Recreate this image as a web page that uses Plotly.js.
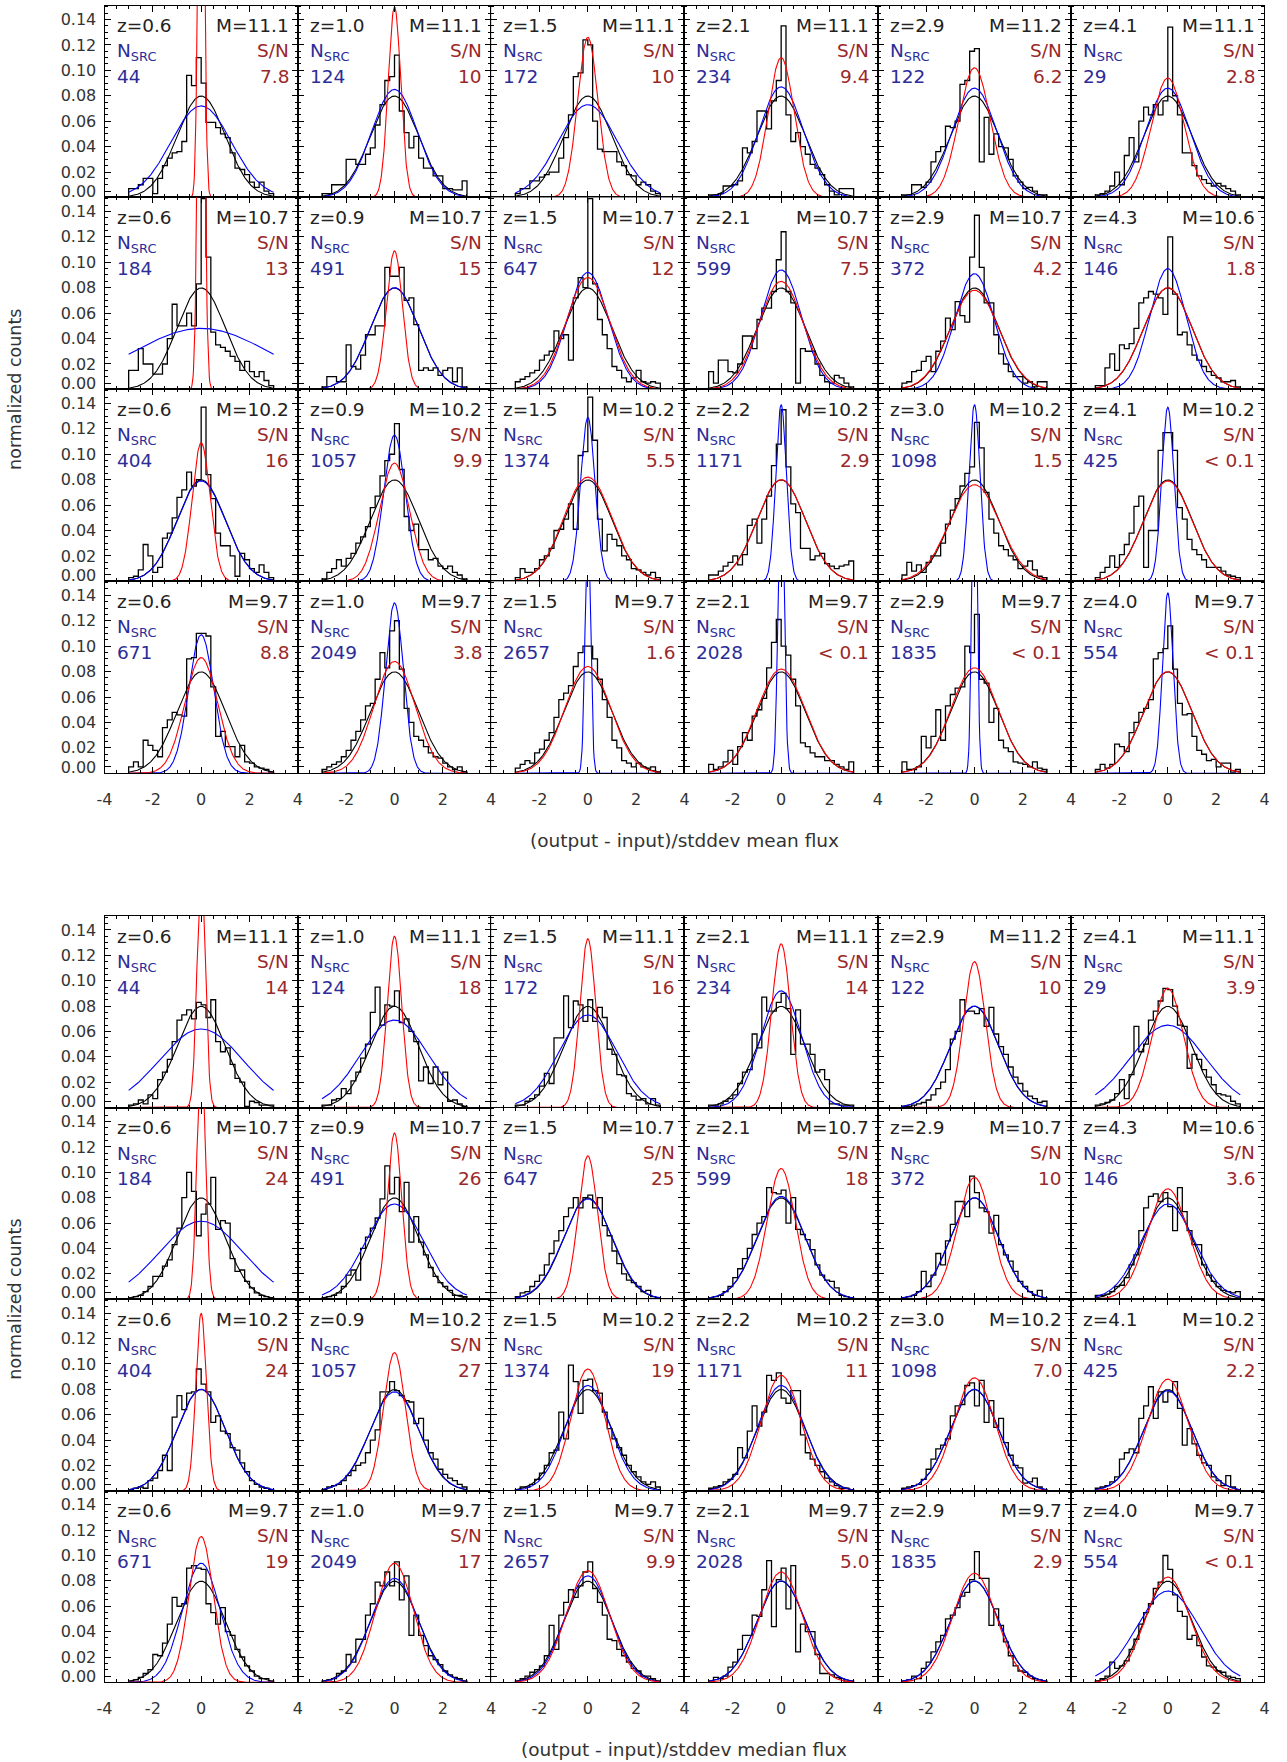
<!DOCTYPE html>
<html><head><meta charset="utf-8">
<script src="https://cdn.plot.ly/plotly-3.0.1.min.js"></script>
<style>html,body{margin:0;padding:0;background:#fff}</style>
</head><body><div id="chart" style="width:1287px;height:1762px"></div>
<script>
// ---------------- data ----------------
const binLeft = [-3.0,-2.8,-2.6,-2.4,-2.2,-2.0,-1.8,-1.6,-1.4,-1.2,-1.0,-0.8,-0.6,-0.4,-0.2,0.0,0.2,0.4,0.6,0.8,1.0,1.2,1.4,1.6,1.8,2.0,2.2,2.4,2.6,2.8];
const binRightEdge = 3.0;

const zLabels = ['0.6','1.0','1.5','2.1','2.9','4.1','0.6','0.9','1.5','2.1','2.9','4.3','0.6','0.9','1.5','2.2','3.0','4.1','0.6','1.0','1.5','2.1','2.9','4.0'];
const massLabels = ['11.1','11.1','11.1','11.1','11.2','11.1','10.7','10.7','10.7','10.7','10.7','10.6','10.2','10.2','10.2','10.2','10.2','10.2','9.7','9.7','9.7','9.7','9.7','9.7'];
const nSrc = ['44','124','172','234','122','29','184','491','647','599','372','146','404','1057','1374','1171','1098','425','671','2049','2657','2028','1835','554'];
const snMean = ['7.8','10','10','9.4','6.2','2.8','13','15','12','7.5','4.2','1.8','16','9.9','5.5','2.9','1.5','&lt; 0.1','8.8','3.8','1.6','&lt; 0.1','&lt; 0.1','&lt; 0.1'];
const snMedian = ['14','18','16','14','10','3.9','24','26','25','18','10','3.6','24','27','19','11','7.0','2.2','19','17','9.9','5.0','2.9','&lt; 0.1'];

// reference unit gaussian (black curve)
const refPeak = 0.0798, refSigma = 1.0;

// fitted gaussians: peak and sigma (mean flux figure)
const blueAmpMean = [0.072,0.085,0.073,0.087,0.086,0.086, 0.048,0.080,0.092,0.094,0.091,0.095, 0.079,0.115,0.129,0.139,0.139,0.137, 0.109,0.134,0.20,0.25,0.30,0.142];
const blueSigMean = [1.25,0.95,1.22,0.92,0.92,0.92, 2.85,1.00,0.85,0.85,0.82,0.75, 1.00,0.45,0.30,0.22,0.23,0.25, 0.52,0.37,0.11,0.12,0.10,0.22];
const redAmpMean  = [0.45,0.150,0.126,0.110,0.102,0.094, 0.50,0.109,0.088,0.085,0.078,0.080, 0.109,0.093,0.082,0.080,0.076,0.079, 0.091,0.088,0.084,0.082,0.083,0.080];
const redSigMean  = [0.11,0.26,0.42,0.54,0.65,0.68, 0.12,0.33,0.90,0.92,1.02,1.00, 0.37,0.62,1.00,1.00,1.05,1.00, 0.68,0.85,0.95,1.00,0.98,1.00];
// (median flux figure)
const blueAmpMedian = [0.062,0.069,0.073,0.092,0.080,0.065, 0.0615,0.075,0.079,0.081,0.080,0.075, 0.080,0.078,0.083,0.083,0.080,0.079, 0.094,0.082,0.084,0.080,0.080,0.072];
const blueSigMedian = [1.72,1.40,1.19,0.85,1.00,1.55, 1.72,1.20,1.02,1.00,1.00,1.10, 1.00,1.02,0.93,0.97,1.00,1.00, 0.78,0.97,0.95,1.00,1.00,1.30];
const redAmpMedian  = [0.19,0.135,0.133,0.129,0.115,0.094, 0.20,0.131,0.113,0.103,0.096,0.087, 0.140,0.109,0.096,0.091,0.089,0.088, 0.115,0.094,0.088,0.087,0.086,0.083];
const redSigMedian  = [0.17,0.30,0.33,0.39,0.45,0.65, 0.17,0.30,0.40,0.58,0.70,0.85, 0.22,0.45,0.70,0.83,0.85,0.85, 0.50,0.78,0.90,0.88,0.90,0.93];

// histograms (normalized counts per 0.2-wide bin), panels row by row
const histMean = [
[.007,.007,.010,.015,.015,.003,.015,.025,.031,.035,.036,.044,.096,.088,.110,.090,.059,.059,.055,.050,.047,.035,.023,.022,.018,.012,.008,.012,.005,.003],
[.003,.003,.010,.010,.010,.030,.030,.026,.026,.034,.039,.057,.073,.092,.095,.112,.068,.051,.039,.048,.031,.023,.023,.017,.017,.007,.007,.006,.006,.013],
[.003,.007,.007,.013,.013,.016,.018,.020,.020,.031,.047,.065,.095,.098,.124,.120,.060,.038,.036,.036,.036,.028,.025,.018,.017,.010,.012,.010,.005,.003],
[.002,.002,.003,.009,.009,.010,.013,.039,.035,.044,.068,.068,.054,.076,.092,.135,.065,.044,.051,.040,.034,.026,.023,.018,.010,.005,.002,.007,.007,.007],
[.002,.002,.010,.010,.008,.012,.028,.036,.040,.056,.055,.060,.089,.092,.115,.117,.028,.063,.034,.050,.040,.039,.030,.017,.012,.007,.008,.005,.002,.002],
[.002,.003,.005,.009,.020,.010,.033,.047,.028,.060,.071,.065,.073,.065,.076,.134,.080,.065,.035,.035,.025,.017,.014,.011,.009,.011,.009,.007,.005,.002],
[.015,.015,.032,.020,.020,.012,.012,.020,.040,.067,.050,.050,.060,.050,.083,.150,.104,.045,.035,.033,.030,.026,.022,.015,.022,.014,.010,.014,.007,.003],
[.002,.010,.010,.006,.006,.035,.018,.016,.027,.043,.043,.050,.050,.096,.089,.089,.096,.070,.072,.051,.015,.017,.015,.017,.011,.015,.017,.006,.017,.002],
[.006,.008,.010,.013,.015,.023,.027,.030,.046,.040,.043,.023,.072,.088,.080,.150,.083,.055,.043,.032,.018,.015,.009,.006,.009,.015,.006,.005,.006,.005],
[.014,.005,.023,.023,.014,.013,.020,.042,.042,.032,.055,.064,.064,.077,.102,.124,.077,.068,.005,.032,.030,.030,.020,.011,.006,.005,.011,.009,.005,.002],
[.005,.006,.014,.015,.022,.026,.014,.030,.038,.056,.047,.069,.058,.053,.104,.137,.096,.068,.068,.043,.028,.020,.014,.010,.010,.005,.006,.002,.006,.006],
[.003,.003,.017,.028,.015,.035,.032,.036,.048,.068,.072,.077,.075,.072,.059,.120,.075,.043,.045,.035,.027,.023,.018,.014,.011,.009,.006,.006,.007,.002],
[.003,.004,.009,.029,.020,.007,.011,.034,.038,.050,.066,.072,.086,.075,.080,.137,.084,.065,.038,.028,.028,.020,.004,.022,.017,.010,.007,.013,.007,.003],
[.002,.007,.010,.017,.012,.018,.022,.030,.035,.043,.058,.067,.083,.095,.100,.124,.088,.051,.040,.045,.025,.025,.017,.018,.012,.010,.012,.007,.005,.002],
[.003,.010,.007,.007,.010,.017,.020,.026,.040,.041,.049,.061,.041,.099,.102,.145,.111,.049,.024,.037,.033,.028,.020,.017,.010,.009,.007,.005,.007,.003],
[.005,.005,.008,.012,.015,.020,.013,.021,.044,.049,.030,.049,.067,.091,.108,.135,.090,.061,.054,.026,.026,.017,.020,.022,.014,.012,.010,.012,.013,.016],
[.005,.015,.008,.013,.007,.015,.020,.020,.030,.045,.056,.065,.075,.085,.090,.125,.105,.070,.049,.038,.028,.025,.020,.017,.010,.012,.016,.009,.004,.003],
[.003,.007,.011,.020,.011,.021,.029,.038,.059,.067,.011,.040,.040,.103,.117,.117,.103,.058,.049,.033,.025,.021,.017,.011,.011,.011,.008,.005,.004,.003],
[.005,.009,.005,.026,.022,.018,.013,.036,.042,.048,.046,.045,.090,.091,.110,.110,.108,.068,.029,.033,.021,.021,.013,.022,.009,.008,.005,.004,.003,.001],
[.003,.005,.007,.009,.013,.018,.026,.033,.042,.053,.055,.074,.095,.083,.112,.120,.082,.051,.040,.029,.026,.021,.016,.013,.012,.008,.005,.003,.005,.001],
[.004,.007,.010,.008,.016,.019,.026,.032,.044,.058,.063,.069,.084,.095,.100,.100,.090,.074,.058,.044,.026,.020,.010,.008,.005,.008,.005,.004,.005,.001],
[.007,.003,.005,.009,.018,.007,.021,.032,.026,.045,.050,.059,.083,.103,.121,.100,.093,.074,.053,.024,.021,.016,.013,.013,.010,.010,.007,.005,.003,.009],
[.009,.003,.003,.005,.029,.020,.029,.050,.026,.053,.062,.067,.068,.100,.095,.125,.074,.071,.040,.051,.026,.020,.017,.009,.008,.007,.005,.009,.004,.003],
[.003,.007,.004,.007,.023,.021,.017,.032,.040,.048,.051,.058,.090,.095,.098,.116,.082,.055,.046,.047,.029,.018,.015,.010,.011,.005,.008,.008,.001,.003]
];
const histMedian = [
[.002,.003,.006,.003,.010,.007,.022,.028,.038,.052,.069,.073,.077,.070,.083,.081,.071,.085,.052,.044,.047,.034,.023,.020,.001,.005,.004,.002,.002,.002],
[.002,.002,.006,.007,.015,.011,.021,.028,.039,.050,.075,.095,.065,.081,.080,.092,.067,.070,.060,.052,.021,.032,.019,.032,.018,.028,.005,.006,.003,.001],
[.002,.002,.005,.007,.010,.017,.027,.019,.055,.055,.088,.063,.084,.081,.068,.085,.068,.079,.071,.046,.042,.026,.025,.011,.009,.006,.007,.003,.007,.002],
[.002,.002,.003,.005,.007,.010,.019,.028,.030,.058,.047,.087,.076,.076,.083,.090,.078,.042,.077,.050,.050,.042,.028,.030,.022,.003,.003,.002,.002,.002],
[.001,.001,.002,.003,.004,.006,.010,.015,.020,.030,.054,.060,.085,.076,.076,.074,.078,.064,.079,.058,.048,.042,.032,.024,.019,.013,.009,.007,.004,.005],
[.002,.003,.004,.006,.011,.022,.007,.026,.064,.044,.050,.069,.076,.084,.094,.093,.080,.065,.064,.031,.042,.038,.030,.024,.018,.011,.010,.009,.005,.003],
[.001,.002,.003,.006,.010,.018,.018,.026,.031,.043,.056,.080,.100,.085,.050,.067,.075,.096,.055,.062,.060,.032,.022,.023,.014,.009,.005,.003,.002,.001],
[.001,.002,.003,.005,.010,.019,.023,.015,.040,.049,.056,.064,.079,.105,.083,.096,.069,.092,.045,.065,.045,.035,.025,.018,.013,.010,.007,.003,.003,.002],
[.002,.005,.006,.010,.014,.019,.027,.036,.046,.054,.065,.072,.080,.072,.080,.082,.072,.080,.058,.050,.038,.028,.020,.015,.013,.010,.006,.007,.002,.001],
[.001,.002,.003,.006,.010,.017,.024,.032,.040,.051,.060,.065,.088,.084,.083,.086,.060,.080,.055,.051,.047,.039,.027,.019,.015,.014,.009,.003,.002,.001],
[.001,.002,.003,.006,.022,.010,.019,.036,.027,.046,.059,.077,.077,.065,.097,.084,.072,.069,.052,.066,.043,.035,.030,.022,.014,.010,.006,.003,.007,.001],
[.003,.003,.004,.006,.010,.011,.017,.027,.035,.054,.072,.081,.083,.077,.084,.073,.054,.088,.069,.054,.043,.043,.027,.019,.014,.010,.007,.006,.005,.006],
[.001,.002,.003,.002,.008,.010,.016,.028,.016,.058,.075,.064,.077,.078,.096,.084,.078,.054,.059,.047,.045,.034,.032,.022,.015,.008,.005,.003,.002,.001],
[.001,.003,.004,.005,.008,.012,.016,.020,.022,.030,.040,.048,.078,.078,.086,.079,.075,.071,.070,.053,.057,.040,.030,.025,.017,.013,.010,.008,.005,.003],
[.001,.003,.003,.005,.009,.014,.020,.030,.032,.062,.041,.099,.086,.061,.087,.088,.079,.077,.062,.049,.041,.034,.028,.020,.015,.011,.007,.005,.007,.003],
[.002,.003,.004,.007,.009,.013,.034,.026,.047,.067,.051,.062,.091,.087,.093,.073,.069,.079,.079,.044,.030,.025,.020,.015,.010,.007,.004,.002,.002,.001],
[.002,.003,.004,.005,.009,.017,.025,.033,.036,.041,.059,.067,.068,.083,.085,.067,.087,.054,.071,.050,.057,.038,.028,.020,.018,.006,.007,.010,.003,.001],
[.002,.003,.004,.007,.011,.025,.030,.033,.030,.057,.067,.082,.057,.078,.070,.078,.086,.065,.036,.049,.037,.028,.022,.020,.011,.008,.004,.012,.003,.001],
[.001,.002,.004,.007,.010,.022,.021,.031,.046,.067,.060,.062,.090,.092,.090,.089,.062,.055,.046,.059,.040,.037,.026,.020,.013,.009,.005,.003,.003,.001],
[.001,.002,.003,.007,.009,.022,.016,.034,.034,.053,.062,.079,.076,.087,.076,.095,.065,.084,.037,.053,.037,.029,.021,.018,.014,.009,.006,.004,.003,.001],
[.001,.003,.005,.008,.010,.013,.021,.045,.026,.053,.063,.073,.067,.076,.087,.095,.074,.063,.053,.034,.033,.026,.021,.016,.011,.009,.005,.005,.003,.001],
[.001,.004,.003,.005,.012,.016,.026,.037,.037,.053,.052,.073,.096,.044,.081,.090,.058,.092,.024,.046,.040,.040,.022,.007,.007,.006,.004,.003,.001,.001],
[.001,.002,.005,.003,.011,.016,.024,.032,.037,.050,.053,.059,.068,.071,.081,.103,.082,.082,.045,.058,.045,.032,.021,.013,.009,.008,.005,.003,.002,.001],
[.001,.003,.005,.016,.011,.013,.017,.026,.034,.046,.055,.062,.074,.079,.100,.089,.069,.056,.052,.034,.037,.029,.020,.013,.012,.009,.008,.005,.004,.003]
];

const xTickVals = [-4,-2,0,2,4];
const yTickVals = [0.005,0.02,0.04,0.06,0.08,0.10,0.12,0.14];
const yTickText = ['0.00','0.02','0.04','0.06','0.08','0.10','0.12','0.14'];
const xTitles = ['(output - input)/stddev mean flux','(output - input)/stddev median flux'];

// ---------------- layout geometry ----------------
const W = 1287, H = 1762;
const PANEL_LEFT = 104.5, PANEL_W = 193.33;
const FIG_TOP = [5.5, 916.0];
const PANEL_H = [191.95, 191.6];
const Y_MAX = 0.151;
const FONT = 'DejaVu Sans';
const TXT_BLACK = '#222222', TXT_BLUE = '#2c2c98', TXT_RED = '#9a2828';
const PANEL_FONT = 18.5;

const figs = [
  {hist: histMean, sn: snMean, bA: blueAmpMean, bS: blueSigMean, rA: redAmpMean, rS: redSigMean},
  {hist: histMedian, sn: snMedian, bA: blueAmpMedian, bS: blueSigMedian, rA: redAmpMedian, rS: redSigMedian}
];

const curveX = [];
for (let i = 0; i <= 300; i++) curveX.push(-3 + 6 * i / 300);
function gaussY(A, s) { return curveX.map(x => A * Math.exp(-x * x / (2 * s * s))); }

const traces = [];
const annotations = [];
const layout = {
  width: W, height: H, margin: {l: 0, r: 0, t: 0, b: 0},
  paper_bgcolor: '#fff', plot_bgcolor: '#fff', showlegend: false,
  font: {family: FONT, color: '#333'}, hovermode: false
};

figs.forEach((fig, f) => {
  for (let r = 0; r < 4; r++) {
    for (let c = 0; c < 6; c++) {
      const p = r * 6 + c;
      const n = f * 24 + p + 1;
      const sfx = n === 1 ? '' : String(n);
      const left = PANEL_LEFT + c * PANEL_W;
      const top = FIG_TOP[f] + r * PANEL_H[f];
      const bottom = top + PANEL_H[f];
      const xa = 'x' + sfx, ya = 'y' + sfx;

      layout['xaxis' + sfx] = {
        domain: [left / W, (left + PANEL_W) / W], anchor: ya, range: [-4, 4],
        showline: true, linecolor: '#000', linewidth: 1, mirror: 'ticks',
        ticks: 'inside', ticklen: 6, tickwidth: 1, tickcolor: '#000',
        tickmode: 'array', tickvals: xTickVals,
        ticktext: c === 0 ? ['-4','-2','0','2','4'] : ['','-2','0','2','4'],
        showticklabels: r === 3, ticklabelstandoff: 11,
        tickfont: {family: FONT, size: 16, color: '#333'},
        minor: {ticks: 'inside', ticklen: 3, tickmode: 'linear', tick0: 0, dtick: 0.5, tickcolor: '#000', tickwidth: 1, showgrid: false},
        showgrid: false, zeroline: false, fixedrange: true
      };
      layout['yaxis' + sfx] = {
        domain: [1 - bottom / H, 1 - top / H], anchor: xa, range: [0, Y_MAX],
        showline: true, linecolor: '#000', linewidth: 1, mirror: 'ticks',
        ticks: 'inside', ticklen: 6, tickwidth: 1, tickcolor: '#000',
        tickmode: 'array', tickvals: yTickVals, ticktext: yTickText,
        showticklabels: c === 0, ticklabelstandoff: 4,
        tickfont: {family: FONT, size: 16, color: '#333'},
        minor: {ticks: 'inside', ticklen: 3, tickmode: 'linear', tick0: 0, dtick: 0.005, tickcolor: '#000', tickwidth: 1, showgrid: false},
        showgrid: false, zeroline: false, fixedrange: true
      };

      // histogram as a step line
      const hv = fig.hist[p];
      traces.push({
        type: 'scatter', mode: 'lines', xaxis: xa, yaxis: ya,
        x: [binLeft[0]].concat(binLeft, [binRightEdge]),
        y: [0].concat(hv, [0]),
        line: {shape: 'hv', color: '#000', width: 1.3}, hoverinfo: 'skip'
      });
      traces.push({type: 'scatter', mode: 'lines', xaxis: xa, yaxis: ya, x: curveX, y: gaussY(refPeak, refSigma),
        line: {color: '#000', width: 1.1}, hoverinfo: 'skip'});
      traces.push({type: 'scatter', mode: 'lines', xaxis: xa, yaxis: ya, x: curveX, y: gaussY(fig.bA[p], fig.bS[p]),
        line: {color: '#0000ff', width: 1.1}, hoverinfo: 'skip'});
      traces.push({type: 'scatter', mode: 'lines', xaxis: xa, yaxis: ya, x: curveX, y: gaussY(fig.rA[p], fig.rS[p]),
        line: {color: '#ff0000', width: 1.1}, hoverinfo: 'skip'});

      const xl = (left + 10) / W, xr = (left + PANEL_W - 7) / W;
      const ann = (text, x, xanchor, ypx, color) => annotations.push({
        text, x, y: 1 - ypx / H, xref: 'paper', yref: 'paper', xanchor, yanchor: 'middle',
        showarrow: false, font: {family: FONT, size: PANEL_FONT, color}
      });
      ann('z=' + zLabels[p], xl, 'left', top + 20, TXT_BLACK);
      ann('M=' + massLabels[p], xr, 'right', top + 20, TXT_BLACK);
      ann('N<sub>SRC</sub>', xl, 'left', top + 47, TXT_BLUE);
      ann('S/N', xr, 'right', top + 45, TXT_RED);
      ann(nSrc[p], xl, 'left', top + 71, TXT_BLUE);
      ann(fig.sn[p], xr, 'right', top + 71, TXT_RED);
    }
  }
  const figMid = FIG_TOP[f] + 2 * PANEL_H[f];
  annotations.push({text: 'normalized counts', x: 15.5 / W, y: 1 - figMid / H, xref: 'paper', yref: 'paper',
    xanchor: 'center', yanchor: 'middle', textangle: -90, showarrow: false, font: {family: FONT, size: 17.5, color: '#333'}});
  const figBottom = FIG_TOP[f] + 4 * PANEL_H[f];
  annotations.push({text: xTitles[f], x: (PANEL_LEFT + 3 * PANEL_W) / W, y: 1 - (figBottom + 67) / H, xref: 'paper', yref: 'paper',
    xanchor: 'center', yanchor: 'middle', showarrow: false, font: {family: FONT, size: 18.5, color: '#333'}});
});

layout.annotations = annotations;
Plotly.newPlot('chart', traces, layout, {staticPlot: true, displayModeBar: false});
</script></body></html>
